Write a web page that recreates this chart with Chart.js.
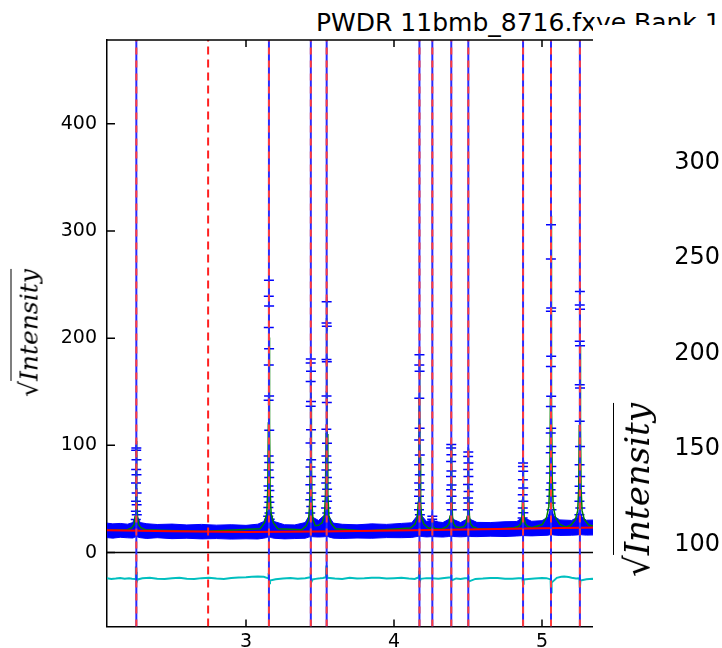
<!DOCTYPE html>
<html>
<head>
<meta charset="utf-8">
<script src="https://cdn.jsdelivr.net/npm/chart.js@4.4.1/dist/chart.umd.min.js"></script>
<style>
  body { margin: 0; background: #fff; }
  #page { position: relative; width: 722px; height: 648px; overflow: hidden; background: #fff; }
  #title { position: absolute; left: 316px; top: 10px; font: 25px "DejaVu Sans"; line-height: 1; white-space: nowrap; color: #000; }
  #plot { position: absolute; left: 0; top: 0; }
  #panel { position: absolute; left: 593px; top: 25px; width: 129px; height: 623px; background: #fff; overflow: hidden; }
  #plot2 { position: absolute; left: 0; top: -25px; }
  .ylab { position: absolute; white-space: nowrap; line-height: 1; color: #000;
          font-family: "DejaVu Serif"; font-style: italic;
          transform: translate(-50%, -50%) rotate(-90deg); }
  .ylab .rad { font-style: normal; }
  .ylab .ov { border-top: 1.5px solid #000; padding-top: 3px; }
</style>
</head>
<body>
<div id="page">
  <div id="title">PWDR 11bmb_8716.fxye Bank 1</div>
  <canvas id="plot" width="722" height="648"></canvas>
  <div class="ylab" style="left:29px; top:333px; font-size:25px;"><span class="rad">√</span><span class="ov">Intensity</span></div>
  <div id="panel">
    <canvas id="plot2" width="300" height="648"></canvas>
    <div class="ylab" style="left:44px; top:465px; font-size:34px;"><span class="rad">√</span><span class="ov">Intensity</span></div>
  </div>
</div>
<script>
// axis limits
const xMin = 2.0608, xMax = 6.0;
const yMin = -69, yMax = 478;

// reflection positions
const reflPos = [2.259, 3.155, 3.438, 3.545, 4.172, 4.259, 4.387, 4.502, 4.872, 5.061, 5.256];
const extraPos = [2.744];

// observed points (peak markers)
const obsX = [
  2.259,2.258,2.260,2.258,2.260,2.257,2.261,2.257,2.261,2.256,2.262,2.255,
  3.155,3.154,3.156,3.154,3.156,3.154,3.156,3.153,3.157,3.153,3.157,3.153,3.157,3.152,3.158,3.152,3.158,3.151,3.159,3.150,3.160,
  3.438,3.437,3.439,3.437,3.439,3.437,3.439,3.436,3.440,3.436,3.440,3.435,3.441,3.435,3.441,3.434,
  3.545,3.544,3.546,3.544,3.546,3.544,3.546,3.543,3.547,3.543,3.547,3.543,3.547,3.542,3.548,3.542,3.548,3.541,3.549,
  4.172,4.171,4.173,4.171,4.173,4.170,4.174,4.170,4.174,4.170,4.174,4.169,4.175,4.169,4.175,
  4.259,4.258,4.260,
  4.387,4.386,4.388,4.386,4.388,4.385,4.389,4.385,4.389,4.384,4.390,
  4.502,4.501,4.503,4.501,4.503,4.500,4.504,4.500,4.504,4.499,
  4.872,4.871,4.873,4.871,4.873,4.870,4.874,4.870,4.874,4.869,
  5.061,5.060,5.062,5.060,5.062,5.060,5.062,5.060,5.062,5.059,5.063,5.059,5.063,5.059,5.063,5.058,5.064,5.058,5.064,
  5.256,5.255,5.257,5.255,5.257,5.255,5.257,5.255,5.257,5.254,5.258,5.254,5.258,5.253,5.259,5.253
];
const obsY = [
  97.6,95.4,86.7,77.4,72.7,65,55.6,47.8,44.7,38.5,35.4,30.8,
  254,239,230,210,190,175,146,142,114,90,84,77,70,62,58,52,47,42,37,34,31,
  180.5,176.8,169,159.6,141,136.4,114.6,102.2,86.7,79.9,71,63.3,55.6,49.3,43.1,37,
  234,214,211,180,178,146,140,115,102,90,84,77,70,65,59,52.5,48,41.6,37,
  184.5,175,169,144,116,105,91,82,72.7,65,58.7,52.5,46,40,35.4,
  34,31,29,
  100.7,97.6,91.3,85,76,71,63,58.7,52.5,46.3,40,
  93.8,89.7,83.6,77.4,71,63.4,57,51,46.3,40,
  83.6,80.4,75.8,68,60.3,54,47.8,41.6,37.2,32.3,
  305.7,273.7,228,225,183,173.6,145.7,136.3,116,111.6,99,93,80.4,74.3,65,58.7,52.5,46.3,40,
  243.5,231,227,197,193,156.6,153.5,122.4,99,82,71,61.8,55.6,47.8,41.6,35.4
];

// dense observed band around the background
const bandX = [2.06,2.10,2.15,2.20,2.235,2.250,2.259,2.268,2.285,2.33,2.40,2.50,2.60,2.70,2.80,2.90,3.00,3.08,3.12,3.14,3.155,3.17,3.19,3.26,3.33,3.40,3.425,3.438,3.45,3.49,3.53,3.545,3.56,3.59,3.65,3.75,3.85,3.95,4.05,4.12,4.155,4.172,4.19,4.22,4.245,4.259,4.275,4.33,4.37,4.387,4.40,4.45,4.49,4.502,4.515,4.56,4.65,4.75,4.83,4.86,4.872,4.885,4.93,5.00,5.04,5.061,5.08,5.12,5.20,5.24,5.256,5.27,5.30,5.40];
const bandHi = [27.5,26.8,27.2,26.5,28,33,36,33,28,26.9,26.2,26.6,25.8,26.3,25.6,26.0,25.4,26.5,29,35,40,35,29,26.0,25.8,28,34,38,33,30,35,40,34,27.5,26.4,25.9,26.8,26.3,27.2,27.8,34,40,34,29,30,33,29,28,31,36,31,28,31,36,31,28.2,28.0,28.8,29,32,36,32,29.2,29.8,33,42,34,30.5,30,33,40,33,30.2,30.5];
const bandLo = [14.0,13.5,14.3,13.8,13.6,14.5,15,14.5,13.9,13.2,13.9,13.0,13.4,12.8,13.1,12.6,12.9,12.7,13.5,14,15,14,13.4,12.8,13.1,13.4,14.5,15,14.8,14.5,14.8,15.5,14.6,13.5,13.2,13.6,13.4,14.0,13.9,14.2,15,15.5,15,14.6,14.8,15,14.8,14.5,15,15.5,15,14.7,15,15.5,15,14.9,15.3,15.0,15.5,15.8,16,15.8,15.6,16,16.2,17,16.4,16.0,16.2,16.5,17,16.6,16.3,16.6];

// calculated profile
const calcX = [
  2.06,
  2.199,2.229,2.244,2.251,2.255,2.257,2.259,2.261,2.263,2.267,2.274,2.289,2.319,
  2.7,
  3.095,3.125,3.140,3.147,3.151,3.153,3.155,3.157,3.159,3.163,3.170,3.185,3.215,
  3.378,3.408,3.423,3.430,3.434,3.436,3.438,3.440,3.442,3.446,3.453,3.468,
  3.49,
  3.515,3.530,3.537,3.541,3.543,3.545,3.547,3.549,3.553,3.560,3.575,3.605,
  3.8,
  4.112,4.142,4.157,4.164,4.168,4.170,4.172,4.174,4.176,4.180,4.187,4.202,
  4.230,4.244,4.251,4.255,4.257,4.259,4.261,4.263,4.267,4.274,4.30,
  4.327,4.357,4.372,4.379,4.383,4.385,4.387,4.389,4.391,4.395,4.402,4.417,
  4.445,
  4.472,4.487,4.494,4.498,4.500,4.502,4.504,4.506,4.510,4.517,4.532,4.562,
  4.7,
  4.812,4.842,4.857,4.864,4.868,4.870,4.872,4.874,4.876,4.880,4.887,4.902,4.932,
  5.001,5.031,5.046,5.053,5.057,5.059,5.061,5.063,5.065,5.069,5.076,5.091,5.121,
  5.16,
  5.196,5.226,5.241,5.248,5.252,5.254,5.256,5.258,5.260,5.264,5.271,5.286,5.316,
  5.4
];
const calcY = [
  20.8,
  21.4,23.3,26.3,33.8,55.5,83.1,104,83.1,55.5,33.8,26.3,23.3,21.4,
  19.7,
  22.2,27.8,36.2,58.0,120.8,200.6,261,200.6,120.8,58.0,36.2,27.8,22.2,
  21.4,25.1,30.7,45.0,86.5,139.1,179,139.1,86.5,45.0,30.7,25.1,
  25.5,
  28.0,34.7,54.2,110.5,181.9,236,181.9,110.5,54.2,34.7,27.2,22.2,
  20.2,
  22.9,26.6,32.3,47.0,89.4,143.2,184,143.2,89.4,47.0,32.3,26.6,
  23.2,22.6,23.6,25.2,28.5,31,28.5,25.2,23.6,22.4,22.0,
  22.3,24.1,26.9,34.1,54.8,81.1,101,81.1,54.8,34.1,26.9,24.1,
  23.5,
  24.2,26.9,33.7,53.3,78.2,97,78.2,53.3,33.7,26.9,24.2,22.5,
  22.0,
  23.1,24.5,26.8,32.5,49.1,70.1,86,70.1,49.1,32.5,26.8,24.5,23.1,
  26.2,32.9,43.1,69.3,145,241.2,314,241.2,145,69.3,43.1,32.9,26.2,
  23.6,
  25.7,30.9,38.9,59.3,118.3,193.3,250,193.3,118.3,59.3,38.9,30.9,25.7,
  23.3
];

// background
const bkgX = [2.06, 2.5, 3.0, 3.5, 4.0, 4.5, 5.0, 5.4, 6.0];
const bkgY = [20.8, 20.0, 19.3, 19.6, 20.6, 21.6, 22.6, 23.3, 24.0];

// difference curve (offset below zero)
const diffX = [2.06,2.09,2.12,2.15,2.18,2.21,2.23,2.250,2.256,2.259,
  2.262,2.268,2.30,2.35,2.40,2.45,2.50,2.55,2.60,2.65,
  2.70,2.75,2.80,2.85,2.90,2.95,3.00,3.04,3.08,3.12,
  3.150,3.153,3.157,3.162,3.20,3.25,3.30,3.35,3.40,3.434,
  3.437,3.440,3.45,3.47,3.50,3.52,3.540,3.543,3.547,3.55,
  3.60,3.65,3.70,3.75,3.80,3.85,3.90,3.95,4.00,4.05,
  4.10,4.14,4.168,4.170,4.174,4.18,4.22,4.259,4.30,4.34,
  4.385,4.387,4.389,4.42,4.45,4.48,4.500,4.502,4.505,4.55,
  4.60,4.65,4.70,4.75,4.80,4.84,4.868,4.872,4.876,4.91,
  4.95,5.00,5.03,5.058,5.061,5.065,5.10,5.13,5.15,5.18,
  5.20,5.23,5.253,5.256,5.260,5.30,5.34,5.40];
const diffY = [-24.0,-24.6,-24.2,-23.7,-24.4,-23.9,-24.3,-24.6,-13,-18,
  -27,-25,-24.0,-23.5,-24.4,-24.7,-23.9,-23.4,-24.3,-24.6,
  -23.8,-23.4,-24.2,-24.5,-23.6,-23.2,-23.0,-22.6,-22.2,-22.5,
  -24,-19,-28.5,-26,-24.8,-24.2,-23.6,-24.3,-23.9,-23,
  -19,-28,-25,-24.5,-24,-23.6,-23,-12,-20,-23.5,
  -24.2,-24.6,-23.5,-24.1,-24.0,-23.4,-23.4,-24.2,-23.9,-23.5,
  -24.2,-24.5,-23,-17,-27,-24.5,-23.8,-24,-24.3,-23.7,
  -23,-21,-26,-24.1,-24.6,-23.9,-24,-22,-27,-24.5,
  -24.2,-23.6,-23.7,-24.4,-24.3,-23.9,-24,-29,-25,-24.6,
  -24.2,-23.7,-23.8,-25,-37,-28,-23.5,-22.6,-22.2,-22.8,
  -23.4,-24.1,-24,-33,-26,-24.8,-24.3,-25];

// right-hand fragment axis
const rightMin = 58.5, rightMax = 330;

const pts = (xs, ys) => xs.map((x, i) => ({ x: x, y: ys[i] }));

function vlines(positions) {
    let out = [];
    positions.forEach(p => {
        out.push({ x: p, y: yMin }, { x: p, y: yMax }, { x: p, y: null });
    });
    return out;
}

const lineDs = (data, color, width, order, extra) => Object.assign({
    data: data, showLine: true, borderColor: color, borderWidth: width,
    pointRadius: 0, tension: 0, fill: false, order: order
}, extra || {});

/* inward ticks and top spine */
const frame = {
    id: 'frame',
    afterDraw(chart) {
        const ctx = chart.ctx, a = chart.chartArea;
        const x = chart.scales.x, y = chart.scales.y;
        ctx.save();
        ctx.strokeStyle = '#000';
        ctx.lineWidth = 1.5;
        ctx.beginPath();
        ctx.moveTo(a.left, a.top);
        ctx.lineTo(a.right, a.top);
        x.ticks.forEach(t => {
            const px = x.getPixelForValue(t.value);
            ctx.moveTo(px, a.bottom); ctx.lineTo(px, a.bottom - 7);
            ctx.moveTo(px, a.top); ctx.lineTo(px, a.top + 7);
        });
        y.ticks.forEach(t => {
            const py = y.getPixelForValue(t.value);
            ctx.moveTo(a.left, py); ctx.lineTo(a.left + 8, py);
        });
        ctx.stroke();
        ctx.restore();
    }
};

new Chart(document.getElementById('plot'), {
    type: 'scatter',
    data: {
        datasets: [
            lineDs(pts(bandX, bandLo), '#0000ff', 1, 10),
            lineDs(pts(bandX, bandHi), '#0000ff', 1, 9, { fill: '-1', backgroundColor: '#0000ff' }),
            {
                data: pts(obsX, obsY), showLine: false, pointStyle: 'cross',
                pointRadius: 5, borderColor: '#0000ff', borderWidth: 1.5, order: 8
            },
            lineDs(pts(calcX, calcY), '#008000', 1.5, 7),
            lineDs(pts(bkgX, bkgY), '#ff0000', 2, 6),
            lineDs([{ x: xMin, y: 0 }, { x: xMax, y: 0 }], '#000000', 1.5, 5),
            lineDs(pts(diffX, diffY), '#00bfbf', 2, 4),
            lineDs(vlines(reflPos), '#2a2aff', 2, 3),
            lineDs(vlines(reflPos), '#ff3c3c', 2, 2, { borderDash: [7, 6] }),
            lineDs(vlines(extraPos), '#ff2020', 2, 1, { borderDash: [8, 5] })
        ]
    },
    options: {
        responsive: false,
        animation: false,
        events: [],
        layout: { padding: { top: 40, right: 32, left: 0, bottom: 0 } },
        plugins: { legend: { display: false }, tooltip: { enabled: false } },
        scales: {
            x: {
                type: 'linear', min: xMin, max: xMax,
                grid: { display: false, drawTicks: false },
                border: { display: true, color: '#000', width: 1.5 },
                ticks: { stepSize: 1, includeBounds: false, color: '#000', padding: 4,
                         maxRotation: 0, autoSkip: false,
                         font: { family: 'DejaVu Sans', size: 19 } },
                afterFit(s) { s.height = 21; }
            },
            y: {
                min: yMin, max: yMax,
                grid: { display: false, drawTicks: false },
                border: { display: true, color: '#000', width: 1.5 },
                ticks: { stepSize: 100, includeBounds: false, color: '#000', padding: 10,
                         font: { family: 'DejaVu Sans', size: 19 } },
                afterFit(s) { s.width = 107; }
            }
        }
    },
    plugins: [frame]
});

/* fragment of the neighbouring panel on the right */
new Chart(document.getElementById('plot2'), {
    type: 'scatter',
    data: { datasets: [] },
    options: {
        responsive: false,
        animation: false,
        events: [],
        layout: { padding: { top: 105, right: 0, left: 0, bottom: 0 } },
        plugins: { legend: { display: false }, tooltip: { enabled: false } },
        scales: {
            x: { type: 'linear', display: false, min: 0, max: 1 },
            y: {
                min: rightMin, max: rightMax,
                grid: { display: false, drawTicks: false },
                border: { display: false },
                ticks: { stepSize: 50, includeBounds: false, color: '#000', padding: 10,
                         font: { family: 'DejaVu Sans', size: 24 } },
                afterFit(s) { s.width = 137; }
            }
        }
    }
});
</script>
</body>
</html>
